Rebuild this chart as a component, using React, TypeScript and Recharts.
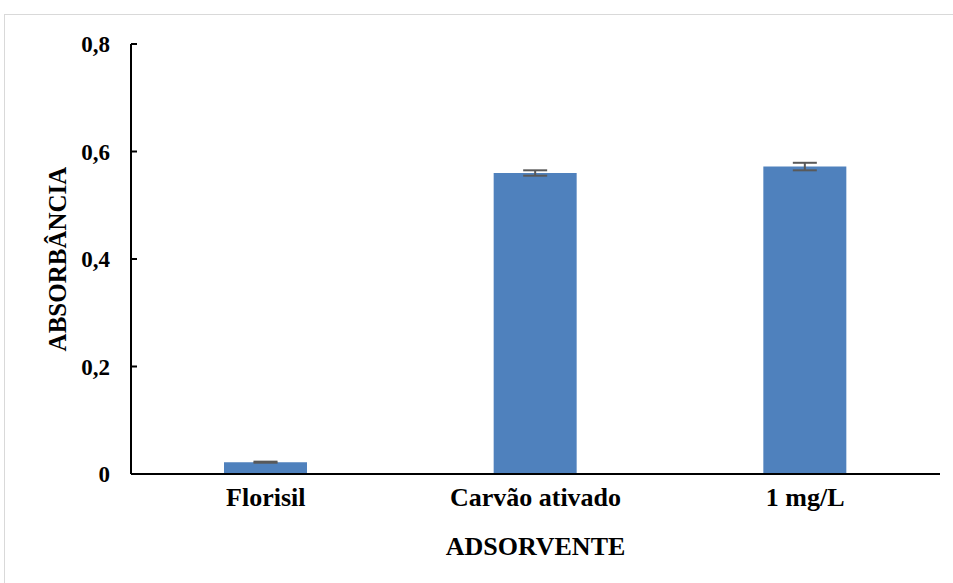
import { Bar, BarChart, ErrorBar, XAxis, YAxis } from "recharts";

const categories = ["Florisil", "Carvão ativado", "1 mg/L"];
const absorbance = [0.022, 0.56, 0.572];
const errors = [0.001, 0.005, 0.007];
const yTicks = [0, 0.2, 0.4, 0.6, 0.8];
const yTickLabels = ["0", "0,2", "0,4", "0,6", "0,8"];

const FONT = "Liberation Serif";

type Row = { name: string; value: number; err: number };

const data: Row[] = categories.map((name, i) => ({
  name,
  value: absorbance[i],
  err: errors[i],
}));

// y ticks point inward (to the right of the axis), like the Excel original
const YTick = ({ x, y, payload }: any) => {
  const i = yTicks.indexOf(payload.value);
  return (
    <g>
      {payload.value !== 0 && (
        <line x1={x} x2={x + 6} y1={y} y2={y} stroke="#000" strokeWidth={2} />
      )}
      <text
        x={x - 21}
        y={y + 8}
        textAnchor="end"
        style={{ fontFamily: FONT, fontWeight: "bold", fontSize: 23 }}
        fill="#000"
      >
        {i >= 0 ? yTickLabels[i] : payload.value}
      </text>
    </g>
  );
};

const XTick = ({ x, y, payload }: any) => (
  <text
    x={x}
    y={y + 32}
    textAnchor="middle"
    style={{ fontFamily: FONT, fontWeight: "bold", fontSize: 26 }}
    fill="#000"
  >
    {payload.value}
  </text>
);

const App = () => {
  return (
    <div
      style={{
        position: "absolute",
        left: 0,
        top: 0,
        width: 953,
        height: 583,
        background: "#fff",
        overflow: "hidden",
      }}
    >
      <div
        style={{
          position: "absolute",
          left: 4,
          top: 14,
          width: 1000,
          height: 700,
          border: "1px solid #d9d9d9",
        }}
      />
      <div style={{ position: "absolute", left: 0, top: 0 }}>
        <BarChart
          width={953}
          height={583}
          data={data}
          margin={{ top: 44, right: 13, left: 31, bottom: 29 }}
          barSize={83}
        >
          <XAxis
            dataKey="name"
            height={80}
            axisLine={{ stroke: "#000", strokeWidth: 2 }}
            tickLine={false}
            tickSize={0}
            tickMargin={0}
            tick={<XTick />}
            interval={0}
            label={{
              content: () => (
                <text
                  x={535.5}
                  y={555}
                  textAnchor="middle"
                  style={{ fontFamily: FONT, fontWeight: "bold", fontSize: 26 }}
                  fill="#000"
                >
                  ADSORVENTE
                </text>
              ),
            }}
          />
          <YAxis
            width={100}
            domain={[0, 0.8]}
            ticks={yTicks}
            axisLine={{ stroke: "#000", strokeWidth: 2 }}
            tickLine={false}
            tickSize={0}
            tickMargin={0}
            tick={<YTick />}
            label={{
              content: () => (
                <text
                  x={66}
                  y={259}
                  transform="rotate(-90, 66, 259)"
                  textAnchor="middle"
                  style={{ fontFamily: FONT, fontWeight: "bold", fontSize: 25 }}
                  fill="#000"
                >
                  ABSORBÂNCIA
                </text>
              ),
            }}
          />
          <Bar dataKey="value" fill="#4f81bd" isAnimationActive={false}>
            <ErrorBar
              dataKey="err"
              width={12}
              stroke="#595959"
              strokeWidth={2}
              direction="y"
              isAnimationActive={false}
            />
          </Bar>
        </BarChart>
      </div>
    </div>
  );
};

export default App;
